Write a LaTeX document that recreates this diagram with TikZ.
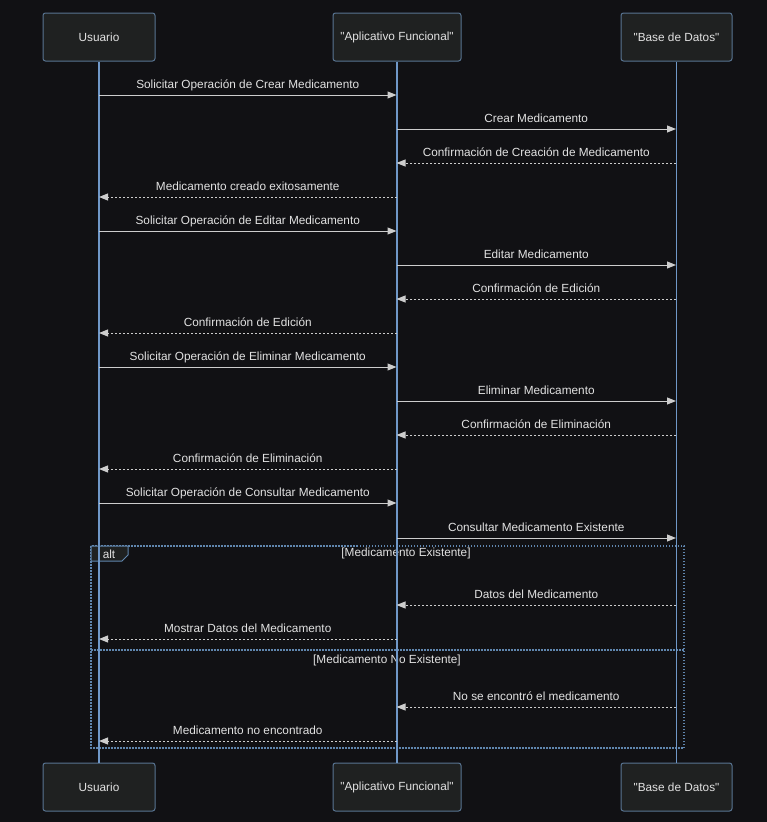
\documentclass[tikz,border=0pt]{standalone}
\usepackage{fontspec}
\setmainfont{Liberation Sans}[Ligatures=TeXOff]
\usetikzlibrary{arrows.meta}
\definecolor{canvas}{RGB}{17,17,20}
\definecolor{boxfill}{RGB}{31,33,33}
\definecolor{boxedge}{RGB}{88,116,146}
\definecolor{lifecol}{RGB}{112,152,200}
\definecolor{msgcol}{RGB}{205,205,205}
\definecolor{txtcol}{RGB}{226,226,226}
\definecolor{framecol}{RGB}{96,134,174}
\tikzset{
  actor/.style={draw=boxedge, fill=boxfill, line width=1pt, rounded corners=2.5pt,
    minimum width=#1, minimum height=48pt, inner sep=0pt, text=txtcol,
    font=\fontsize{11.8}{14}\selectfont},
  lifeline/.style={draw=lifecol, line width=1.2pt},
  msgline/.style={draw=msgcol, line width=1pt,
    -{Triangle[length=9pt,width=7pt]}},
  reply/.style={msgline, dash pattern=on 2pt off 2pt},
  lbl/.style={midway, anchor=base, yshift=6.5pt, inner sep=0pt, text=txtcol,
    font=\fontsize{11.8}{14}\selectfont},
  framebox/.style={draw=framecol, line width=1.2pt, dash pattern=on 1.5pt off 1.5pt},
  guard/.style={text=txtcol, inner sep=0pt, font=\fontsize{11.8}{14}\selectfont}
}
\begin{document}
\begin{tikzpicture}[x=1pt,y=-1pt]
\fill[canvas] (0,0) rectangle (767,822);
\useasboundingbox (0,0) rectangle (767,822);

% participants, top and bottom
\node[actor=112pt] (ut) at (99,37) {Usuario};
\node[actor=128pt] (at) at (397,37) {"Aplicativo Funcional"};
\node[actor=111pt] (bt) at (676.5,37) {"Base de Datos"};
\node[actor=112pt] (ub) at (99,787) {Usuario};
\node[actor=128pt] (ab) at (397,787) {"Aplicativo Funcional"};
\node[actor=111pt] (bb) at (676.5,787) {"Base de Datos"};

% alt frame
\coordinate (fnw) at (91,546);
\coordinate (fse) at (684,748);
\draw[framebox] (fnw) rectangle (fse);
\coordinate (sepw) at (91,650);
\coordinate (sepe) at (684,650);
\draw[framebox] (sepw) -- (sepe);
\draw[draw=framecol, fill=boxfill, line width=1pt]
  (91,546) -- (128,546) -- (128,555) -- (122,561) -- (91,561) -- cycle;
\node[guard] (altlbl) at (109,554) {alt};
\node[guard] (g1) at (406,553) {[Medicamento Existente]};
\node[guard] (g2) at (387,660) {[Medicamento No Existente]};

% lifelines
\draw[lifeline] (ut.south) -- (ub.north);
\draw[lifeline] (at.south) -- (ab.north);
\draw[lifeline] (bt.south) -- (bb.north);

% message anchor points on the lifelines
\foreach \k/\yy in {1/95,2/129,3/163,4/197,5/231,6/265,7/299,8/333,9/367,
                    10/401,11/435,12/469,13/503,14/538,15/605,16/639,17/707,18/741}{
  \coordinate (u\k) at (99,\yy);
  \coordinate (a\k) at (396.5,\yy);
  \coordinate (b\k) at (676,\yy);
}

% messages
\draw[msgline] (u1) -- node[lbl]{Solicitar Operación de Crear Medicamento} (a1);
\draw[msgline] (a2) -- node[lbl]{Crear Medicamento} (b2);
\draw[reply] (b3) -- node[lbl]{Confirmación de Creación de Medicamento} (a3);
\draw[reply] (a4) -- node[lbl]{Medicamento creado exitosamente} (u4);
\draw[msgline] (u5) -- node[lbl]{Solicitar Operación de Editar Medicamento} (a5);
\draw[msgline] (a6) -- node[lbl]{Editar Medicamento} (b6);
\draw[reply] (b7) -- node[lbl]{Confirmación de Edición} (a7);
\draw[reply] (a8) -- node[lbl]{Confirmación de Edición} (u8);
\draw[msgline] (u9) -- node[lbl]{Solicitar Operación de Eliminar Medicamento} (a9);
\draw[msgline] (a10) -- node[lbl]{Eliminar Medicamento} (b10);
\draw[reply] (b11) -- node[lbl]{Confirmación de Eliminación} (a11);
\draw[reply] (a12) -- node[lbl]{Confirmación de Eliminación} (u12);
\draw[msgline] (u13) -- node[lbl]{Solicitar Operación de Consultar Medicamento} (a13);
\draw[msgline] (a14) -- node[lbl]{Consultar Medicamento Existente} (b14);
\draw[reply] (b15) -- node[lbl]{Datos del Medicamento} (a15);
\draw[reply] (a16) -- node[lbl]{Mostrar Datos del Medicamento} (u16);
\draw[reply] (b17) -- node[lbl]{No se encontró el medicamento} (a17);
\draw[reply] (a18) -- node[lbl]{Medicamento no encontrado} (u18);
\end{tikzpicture}
\end{document}
